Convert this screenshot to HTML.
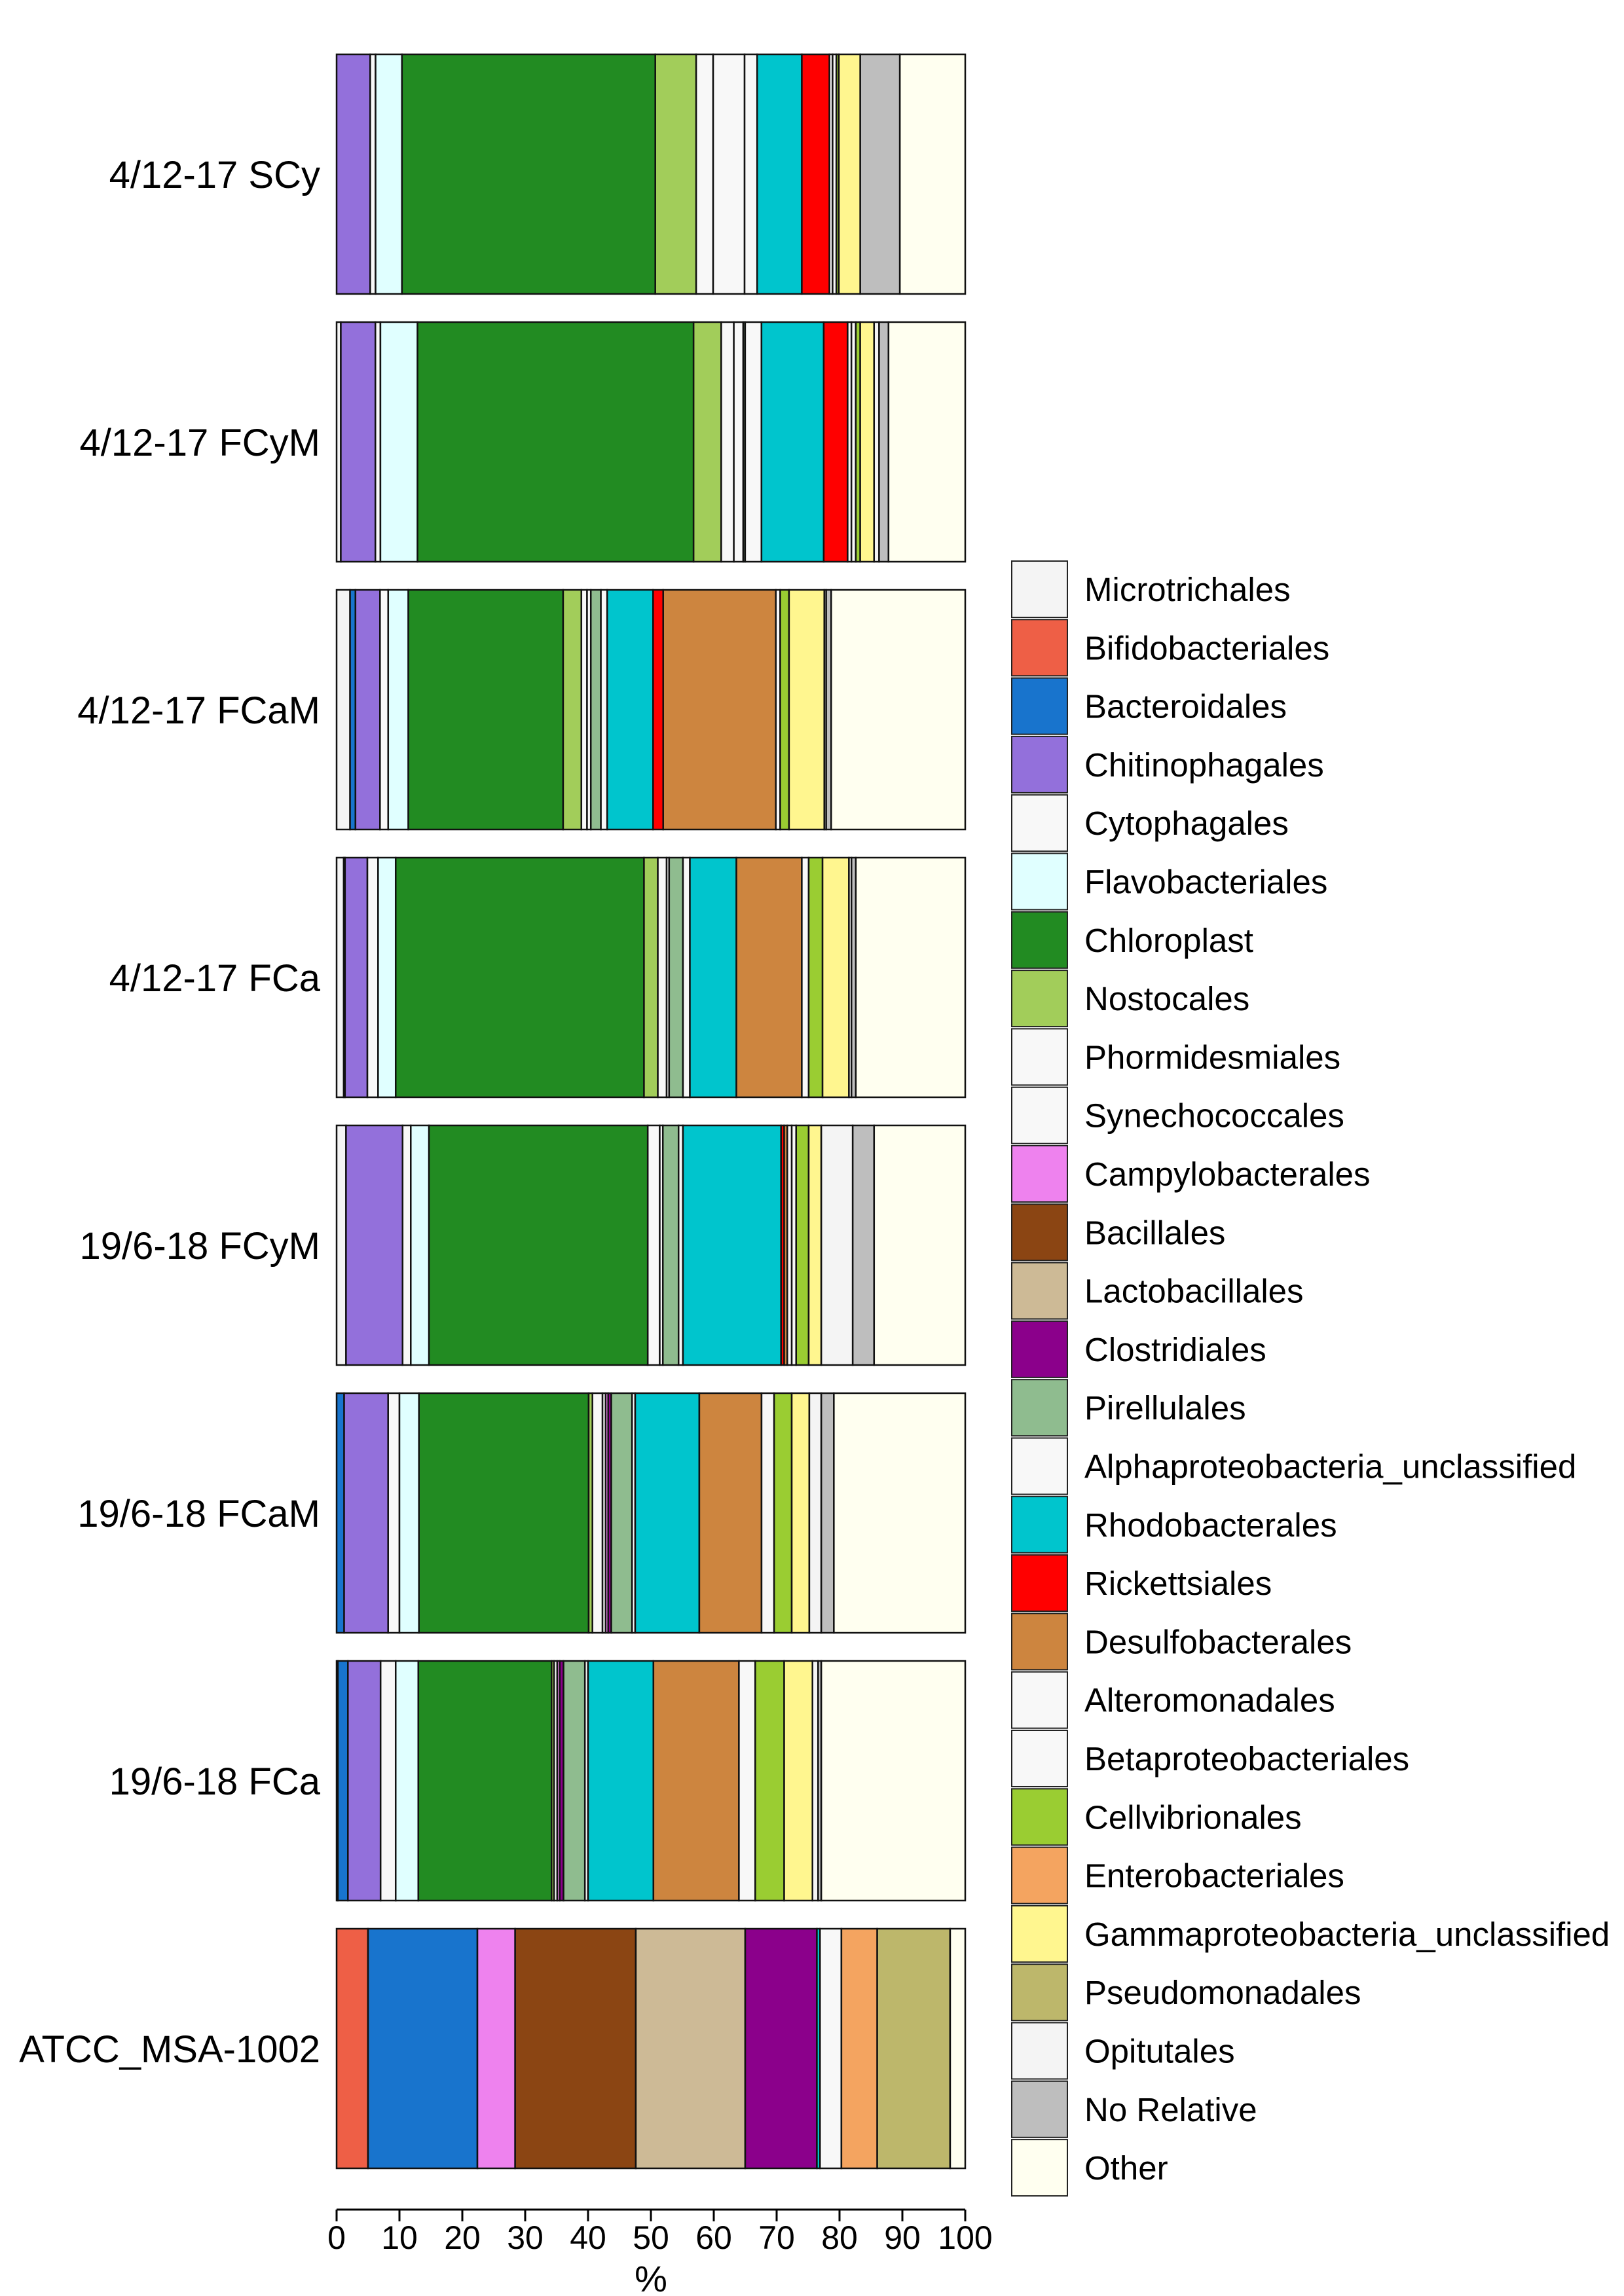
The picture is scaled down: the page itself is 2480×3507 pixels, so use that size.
<!DOCTYPE html>
<html><head><meta charset="utf-8"><style>
html,body{margin:0;padding:0;background:#fff;}
svg{display:block;font-family:"Liberation Sans",sans-serif;}
</style></head><body>
<svg id="chart" width="2480" height="3507" viewBox="0 0 2480 3507" xmlns="http://www.w3.org/2000/svg">
<g id="bars"></g>
<g id="ylabels"></g>
<g id="xaxis"></g>
<g id="legend"></g>
</svg>
<script>
const categories = ["Microtrichales","Bifidobacteriales","Bacteroidales","Chitinophagales","Cytophagales","Flavobacteriales","Chloroplast","Nostocales","Phormidesmiales","Synechococcales","Campylobacterales","Bacillales","Lactobacillales","Clostridiales","Pirellulales","Alphaproteobacteria_unclassified","Rhodobacterales","Rickettsiales","Desulfobacterales","Alteromonadales","Betaproteobacteriales","Cellvibrionales","Enterobacteriales","Gammaproteobacteria_unclassified","Pseudomonadales","Opitutales","No Relative","Other"];
const colors = ["#f4f4f4","#ee5f46","#1874cd","#9370db","#f8f8f8","#e0ffff","#228b22","#a2cd5a","#f8f8f8","#f8f8f8","#ee82ee","#8b4513","#cdba96","#8b008b","#8fbc8f","#f8f8f8","#00c5cd","#ff0000","#cd853f","#f8f8f8","#f8f8f8","#9acd32","#f4a460","#fff68f","#bdb76b","#f4f4f4","#bebebe","#fffff0"];
const samples = ["4/12-17 SCy","4/12-17 FCyM","4/12-17 FCaM","4/12-17 FCa","19/6-18 FCyM","19/6-18 FCaM","19/6-18 FCa","ATCC_MSA-1002"];
const s1 = [0,   0,   0,   5.35,0.85,4.2, 40.3, 6.5, 2.7, 5.0, 0,   0,   0,   0,   0,   2.0, 7.1, 4.4, 0,   0.5, 0.6, 0.4, 0,   3.4, 0,   0,   6.3, 10.4];
const s2 = [0.67,0,   0,   5.5, 0.8, 5.9, 43.9, 4.4, 2.0, 1.5, 0,   0,   0,   0,   0.3, 2.6, 9.9, 3.8, 0,   0.6, 0.7, 0.7, 0,   2.2, 0,   0.8, 1.5, 12.2];
const s3 = [2.14,0,   0.86,3.9, 1.3, 3.2, 24.6, 2.9, 0.9, 0.6, 0,   0,   0,   0,   1.6, 1.0, 7.3, 1.6, 17.9,0.7, 0,   1.4, 0,   5.6, 0,   0.3, 0.8, 21.3];
const s4 = [1.14,0,   0.2, 3.56,1.7, 2.8, 39.5, 2.2, 1.4, 0.4, 0,   0,   0,   0,   2.2, 1.1, 7.4, 0,   10.4,1.1, 0,   2.2, 0,   4.2, 0,   0.4, 0.7, 17.4];
const s5 = [1.5, 0,   0,   9.0, 1.3, 2.9, 34.8, 0,   1.9, 0.5, 0,   0,   0,   0,   2.5, 0.7, 15.6,0.5, 0.5, 0.7, 0.7, 2.0, 0,   2.0, 0,   5.0, 3.4, 14.5];
const s6 = [0,   0,   1.2, 7.0, 1.8, 3.1, 27.0, 0.6, 1.6, 0.5, 0.4, 0,   0,   0.5, 3.3, 0.5, 10.2,0,   9.9, 2.0, 0,   2.8, 0,   2.8, 0,   1.9, 2.0, 20.9];
const s7 = [0.2, 0,   1.6, 5.2, 2.4, 3.6, 21.2, 0.4, 0.5, 0,   0.4, 0,   0,   0.6, 3.4, 0.5, 10.4,0,   13.6,2.6, 0,   4.6, 0,   4.5, 0,   0.9, 0.5, 22.9];
const s8 = [0,   5.0, 17.4,0,   0,   0,   0,    0,   0,   0,   6.0, 19.2,17.4,11.4,0,   0,   0.5, 0,   0,   3.4, 0,   0,   5.7, 0,   11.6,0,   0,   2.4];
const seriesValues = [s1,s2,s3,s4,s5,s6,s7,s8];
const xTicks = [0,10,20,30,40,50,60,70,80,90,100];

const NS = "http://www.w3.org/2000/svg";
const X0 = 514, X1 = 1474, BAR_TOP = 83, BAR_H = 366, PITCH = 409;
const xScale = v => X0 + (X1 - X0) * v / 100;
const yBand = i => BAR_TOP + i * PITCH;
function mk(tag, attrs, parent){ const e = document.createElementNS(NS, tag); for (const k in attrs) e.setAttribute(k, attrs[k]); parent.appendChild(e); return e; }

const gb = document.getElementById("bars");
const gl = document.getElementById("ylabels");
samples.forEach((name, i) => {
  const vals = seriesValues[i];
  const total = vals.reduce((a,b)=>a+b,0);
  let cum = 0;
  const y = yBand(i);
  vals.forEach((v, c) => {
    if (v <= 0) return;
    const x = xScale(cum / total * 100);
    const w = xScale((cum + v) / total * 100) - x;
    const r = mk("rect", {x:x, y:y, width:w, height:BAR_H, fill:colors[c], stroke:"#111", "stroke-width":2.5}, gb);
    
    
    cum += v;
  });
  const t = mk("text", {x:489, y:y + BAR_H/2 + 21, "text-anchor":"end", "font-size":58, fill:"#000"}, gl);
  t.textContent = name;
  
  
});

const gx = document.getElementById("xaxis");
const AY = 3375;
const axl = mk("line", {x1:X0, x2:X1, y1:AY, y2:AY, stroke:"#000", "stroke-width":3}, gx);


xTicks.forEach(v => {
  const tk = mk("line", {x1:xScale(v), x2:xScale(v), y1:AY, y2:AY+18, stroke:"#000", "stroke-width":3}, gx);
  
  
  const tl = mk("text", {x:xScale(v), y:AY+60, "text-anchor":"middle", "font-size":50, fill:"#000"}, gx);
  tl.textContent = v;
  
  
});
const xt = mk("text", {x:(X0+X1)/2, y:3500, "text-anchor":"middle", "font-size":56, fill:"#000"}, gx);
xt.textContent = "%";



const gleg = document.getElementById("legend");
categories.forEach((c, i) => {
  const cy = 900 + i * 89.3;
  const k = mk("rect", {x:1545, y:cy-43, width:85, height:86, fill:colors[i], stroke:"#222", "stroke-width":2}, gleg);
  
  
  const t = mk("text", {x:1656, y:cy+18, "font-size":51, fill:"#000"}, gleg);
  t.textContent = c;
  
  
});
</script>
</body></html>
